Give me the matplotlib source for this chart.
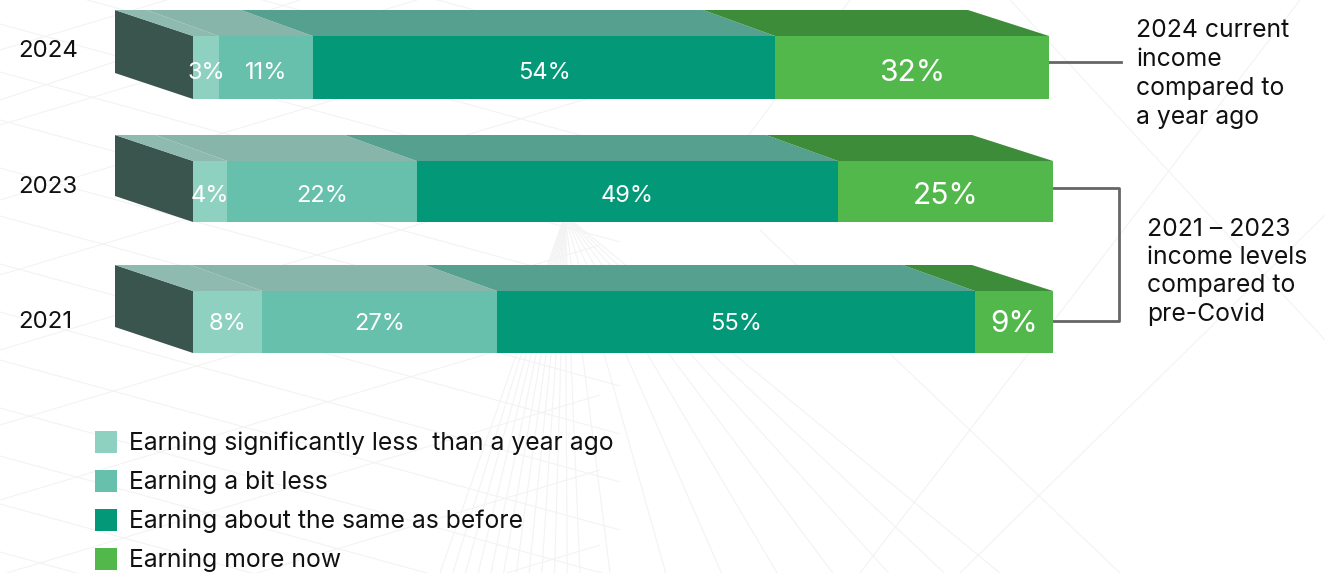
import numpy as np
import matplotlib
matplotlib.use("Agg")
import matplotlib.pyplot as plt
from matplotlib.patches import Polygon, Rectangle
from matplotlib.collections import LineCollection

plt.rcParams['font.family'] = ['Inter', 'DejaVu Sans']

years = ["2024", "2023", "2021"]
less_lot = [3, 4, 8]
less_bit = [11, 22, 27]
same = [54, 49, 55]
more = [32, 25, 9]

legend_labels = ["Earning significantly less  than a year ago", "Earning a bit less",
                 "Earning about the same as before", "Earning more now"]
note_top = "2024 current\nincome\ncompared to\na year ago"
note_bottom = "2021 – 2023\nincome levels\ncompared to\npre-Covid"

front_colors = ["#8ed1c1", "#67c0ac", "#039877", "#52b84b"]
top_colors = ["#8fbaaf", "#88b5a9", "#55a08f", "#3d8c39"]
side_color = "#3a544e"
text_color = "#111111"

# pixel layout of each bar: front top, front bottom, right end
bar_top = [36, 161, 291]
bar_bottom = [99, 222, 353]
bar_right = [1049, 1053, 1053]
label_y = [73, 196, 324]
year_y = [51, 187, 322]
bar_left = 193
depth_x = 78
depth_y = 26

fig = plt.figure(figsize=(13.25, 5.73), dpi=100)
ax = fig.add_axes([0, 0, 1, 1])
ax.set_xlim(0, 1325)
ax.set_ylim(573, 0)
ax.axis("off")

# faint wireframe behind everything: a fan below the bars, a mesh on the left, a few long diagonals
segs = []
for x in np.concatenate([np.linspace(440, 580, 12), np.linspace(610, 1000, 8)]):
    segs.append([(565, 215), (x, 573)])
for off in np.arange(-120, 620, 48):
    segs.append([(0, off), (620, off + 170)])
for off in np.arange(-40, 700, 75):
    segs.append([(0, off + 90), (600, off - 90)])
segs += [[(1300, 0), (860, 573)], [(1010, 0), (1325, 340)], [(1325, 215), (960, 573)],
         [(850, 0), (700, 200)], [(760, 230), (1120, 573)], [(300, 0), (0, 100)]]
ax.add_collection(LineCollection(segs, colors="#f3f3f3", linewidths=0.8, zorder=0))

series = np.array([less_lot, less_bit, same, more], dtype=float)
for i, year in enumerate(years):
    vals = series[:, i]
    scale = (bar_right[i] - bar_left) / vals.sum()
    edges = bar_left + np.concatenate([[0], np.cumsum(vals)]) * scale
    y0, y1 = bar_top[i], bar_bottom[i]
    # side face
    ax.add_patch(Polygon([(bar_left - depth_x, y0 - depth_y), (bar_left, y0), (bar_left, y1),
                          (bar_left - depth_x, y1 - depth_y)], fc=side_color, ec="none", zorder=2))
    for j in range(4):
        l, r = edges[j], edges[j + 1]
        back_l = l - (depth_x if j == 0 else 72)
        back_r = r - (81 if j == 3 else 72)
        ax.add_patch(Polygon([(l, y0), (r, y0), (back_r, y0 - depth_y), (back_l, y0 - depth_y)],
                             fc=top_colors[j], ec="none", zorder=2))
        ax.add_patch(Rectangle((l, y0), r - l, y1 - y0, fc=front_colors[j], ec="none", zorder=3))
        fs = 21.5 if j == 3 else 17
        ax.text((l + r) / 2, label_y[i], f"{int(vals[j])}%", color="white", fontsize=fs,
                ha="center", va="center", zorder=4)
    ax.text(18, year_y[i], year, fontsize=17.3, color=text_color, ha="left", va="center", zorder=4)

# brackets to the notes
ax.plot([1049, 1121], [62, 62], color="#666666", lw=2, zorder=2)
ax.plot([1053, 1119, 1119, 1053], [188, 188, 321, 321], color="#666666", lw=2, zorder=2)
ax.text(1136, 74, note_top, fontsize=17.8, color=text_color, ha="left", va="center", linespacing=1.32)
ax.text(1147, 272, note_bottom, fontsize=17.8, color=text_color, ha="left", va="center", linespacing=1.3)

# legend
legend_y = [442, 481, 520, 559]
for c, lab, y in zip(front_colors, legend_labels, legend_y):
    ax.add_patch(Rectangle((95, y - 11), 22, 22, fc=c, ec="none", zorder=3))
    ax.text(129, y + 1, lab, fontsize=17.8, color=text_color, ha="left", va="center", zorder=4)

fig.savefig("out.png", dpi=100)
